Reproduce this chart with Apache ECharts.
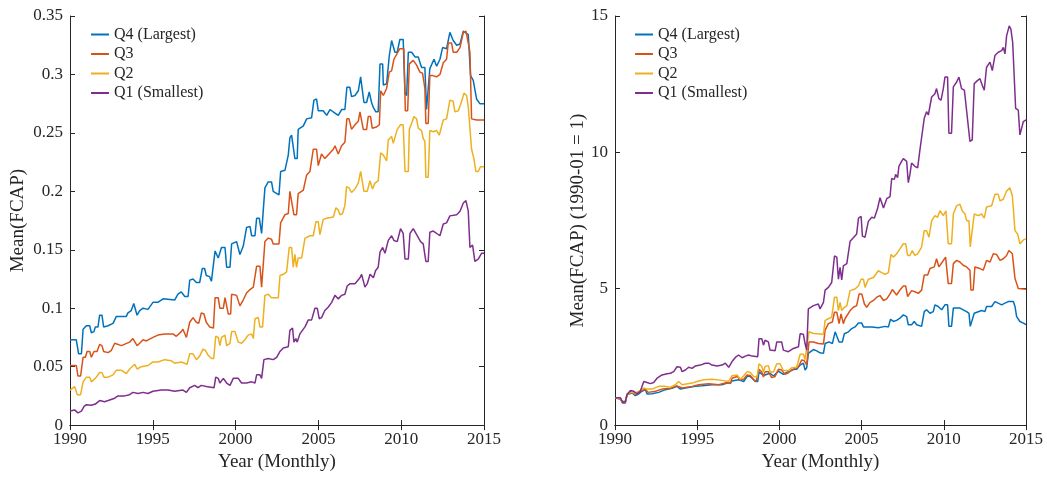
<!DOCTYPE html>
<html>
<head>
<meta charset="utf-8">
<script src="https://cdn.jsdelivr.net/npm/echarts@6/dist/echarts.min.js"></script>
<style>
html,body{margin:0;padding:0;background:#fff;}
#chart{width:1047px;height:477px;}
</style>
</head>
<body>
<div id="chart"></div>
<script>
// ---------- DATA ([decimal year, value]) ----------
const seriesNames = ['Q4 (Largest)', 'Q3', 'Q2', 'Q1 (Smallest)'];
const xTicks = [1990, 1995, 2000, 2005, 2010, 2015];

// Left panel: Mean(FCAP)
const q4Mean = [[1990.00,0.073],[1990.38,0.073],[1990.52,0.061],[1990.69,0.061],[1990.79,0.082],[1990.99,0.085],[1991.19,0.085],[1991.29,0.079],[1991.45,0.080],[1991.53,0.084],[1991.69,0.084],[1991.79,0.094],[1991.93,0.094],[1992.03,0.084],[1992.30,0.085],[1992.60,0.087],[1992.80,0.093],[1993.40,0.093],[1993.50,0.096],[1993.70,0.098],[1993.85,0.104],[1993.97,0.104],[1994.05,0.094],[1994.21,0.098],[1994.41,0.100],[1994.71,0.099],[1995.01,0.105],[1995.31,0.105],[1995.62,0.108],[1996.32,0.107],[1996.52,0.112],[1996.72,0.114],[1996.93,0.110],[1997.13,0.110],[1997.23,0.124],[1997.43,0.125],[1997.63,0.122],[1997.83,0.122],[1997.99,0.134],[1998.13,0.134],[1998.23,0.128],[1998.43,0.127],[1998.54,0.123],[1998.66,0.123],[1998.76,0.149],[1998.95,0.143],[1999.15,0.152],[1999.36,0.152],[1999.46,0.135],[1999.66,0.135],[1999.76,0.155],[2000.06,0.157],[2000.26,0.146],[2000.46,0.153],[2000.66,0.169],[2000.87,0.170],[2000.97,0.162],[2001.17,0.162],[2001.27,0.177],[2001.43,0.177],[2001.57,0.164],[2001.67,0.164],[2001.77,0.203],[2001.97,0.208],[2002.17,0.208],[2002.27,0.200],[2002.62,0.197],[2002.72,0.217],[2002.98,0.218],[2003.18,0.231],[2003.28,0.246],[2003.38,0.248],[2003.58,0.228],[2003.72,0.228],[2003.78,0.253],[2004.09,0.256],[2004.29,0.262],[2004.59,0.263],[2004.73,0.278],[2004.89,0.279],[2004.99,0.269],[2005.29,0.269],[2005.50,0.265],[2005.70,0.270],[2006.00,0.267],[2006.20,0.265],[2006.40,0.270],[2006.60,0.270],[2006.72,0.289],[2006.90,0.289],[2007.00,0.281],[2007.21,0.282],[2007.41,0.286],[2007.55,0.298],[2007.67,0.298],[2007.75,0.276],[2007.91,0.276],[2008.07,0.285],[2008.21,0.276],[2008.31,0.272],[2008.47,0.268],[2008.61,0.268],[2008.72,0.309],[2008.88,0.309],[2008.92,0.291],[2009.12,0.292],[2009.28,0.316],[2009.42,0.329],[2009.62,0.319],[2009.76,0.319],[2009.92,0.330],[2010.12,0.330],[2010.23,0.284],[2010.33,0.282],[2010.43,0.319],[2010.63,0.319],[2010.83,0.315],[2011.03,0.315],[2011.23,0.306],[2011.43,0.306],[2011.53,0.270],[2011.63,0.270],[2011.73,0.305],[2011.98,0.313],[2012.14,0.307],[2012.34,0.313],[2012.50,0.323],[2012.74,0.322],[2012.94,0.336],[2013.14,0.329],[2013.35,0.325],[2013.55,0.326],[2013.75,0.337],[2014.05,0.334],[2014.19,0.299],[2014.35,0.295],[2014.55,0.279],[2014.75,0.275],[2015.00,0.275]];
const q3Mean = [[1990.00,0.051],[1990.38,0.051],[1990.48,0.042],[1990.64,0.042],[1990.79,0.058],[1990.93,0.058],[1991.03,0.063],[1991.19,0.063],[1991.29,0.058],[1991.45,0.063],[1991.63,0.063],[1991.79,0.069],[1991.93,0.068],[1992.03,0.063],[1992.30,0.062],[1992.50,0.064],[1992.70,0.070],[1993.10,0.068],[1993.60,0.071],[1993.80,0.074],[1993.91,0.074],[1994.05,0.068],[1994.21,0.070],[1994.41,0.073],[1994.61,0.072],[1995.01,0.075],[1995.31,0.077],[1995.72,0.078],[1996.22,0.078],[1996.42,0.076],[1996.72,0.080],[1996.82,0.082],[1997.03,0.075],[1997.23,0.088],[1997.43,0.092],[1997.63,0.088],[1997.77,0.087],[1997.93,0.096],[1998.09,0.095],[1998.23,0.088],[1998.43,0.084],[1998.66,0.083],[1998.76,0.109],[1998.95,0.109],[1999.05,0.100],[1999.26,0.100],[1999.36,0.109],[1999.46,0.109],[1999.56,0.095],[1999.70,0.095],[1999.76,0.112],[2000.06,0.111],[2000.26,0.102],[2000.46,0.107],[2000.66,0.113],[2000.87,0.116],[2001.07,0.118],[2001.27,0.136],[2001.47,0.136],[2001.57,0.118],[2001.67,0.118],[2001.77,0.157],[2001.97,0.160],[2002.17,0.159],[2002.27,0.155],[2002.62,0.155],[2002.72,0.173],[2002.98,0.180],[2003.18,0.181],[2003.28,0.200],[2003.38,0.201],[2003.52,0.180],[2003.68,0.180],[2003.78,0.198],[2004.09,0.201],[2004.29,0.214],[2004.49,0.217],[2004.69,0.236],[2004.89,0.236],[2004.99,0.222],[2005.19,0.232],[2005.39,0.228],[2005.64,0.232],[2005.90,0.236],[2006.00,0.239],[2006.20,0.232],[2006.40,0.239],[2006.60,0.242],[2006.72,0.262],[2006.85,0.262],[2007.00,0.253],[2007.21,0.257],[2007.41,0.260],[2007.51,0.268],[2007.61,0.268],[2007.71,0.253],[2007.91,0.253],[2008.01,0.264],[2008.15,0.264],[2008.25,0.254],[2008.51,0.255],[2008.68,0.257],[2008.76,0.286],[2008.92,0.282],[2009.12,0.288],[2009.28,0.302],[2009.42,0.303],[2009.56,0.313],[2009.68,0.312],[2009.92,0.322],[2010.02,0.323],[2010.16,0.322],[2010.25,0.269],[2010.39,0.269],[2010.49,0.309],[2010.73,0.312],[2010.93,0.308],[2011.13,0.302],[2011.29,0.301],[2011.43,0.288],[2011.49,0.258],[2011.63,0.258],[2011.73,0.299],[2011.90,0.299],[2012.14,0.298],[2012.34,0.300],[2012.54,0.310],[2012.74,0.313],[2012.84,0.327],[2013.04,0.327],[2013.14,0.319],[2013.35,0.319],[2013.55,0.323],[2013.75,0.336],[2013.91,0.337],[2014.05,0.327],[2014.15,0.319],[2014.25,0.262],[2014.55,0.261],[2015.00,0.261]];
const q2Mean = [[1990.00,0.030],[1990.28,0.033],[1990.44,0.026],[1990.64,0.026],[1990.79,0.037],[1990.99,0.041],[1991.19,0.041],[1991.29,0.037],[1991.59,0.041],[1991.79,0.045],[1991.93,0.045],[1992.05,0.041],[1992.30,0.041],[1992.60,0.043],[1992.80,0.047],[1993.10,0.047],[1993.40,0.044],[1993.60,0.048],[1993.91,0.052],[1994.05,0.048],[1994.31,0.050],[1994.71,0.051],[1995.01,0.054],[1995.31,0.054],[1995.72,0.056],[1996.12,0.055],[1996.32,0.053],[1996.72,0.054],[1997.07,0.052],[1997.23,0.061],[1997.43,0.061],[1997.63,0.056],[1997.83,0.059],[1998.03,0.065],[1998.17,0.064],[1998.33,0.060],[1998.54,0.057],[1998.68,0.057],[1998.80,0.076],[1998.95,0.075],[1999.05,0.068],[1999.15,0.075],[1999.36,0.077],[1999.46,0.068],[1999.66,0.070],[1999.76,0.080],[1999.96,0.080],[2000.16,0.071],[2000.36,0.070],[2000.56,0.073],[2000.76,0.077],[2000.97,0.078],[2001.07,0.074],[2001.17,0.091],[2001.37,0.092],[2001.47,0.084],[2001.63,0.084],[2001.77,0.111],[2001.97,0.112],[2002.17,0.109],[2002.58,0.109],[2002.68,0.128],[2002.88,0.129],[2003.08,0.131],[2003.24,0.152],[2003.38,0.152],[2003.48,0.135],[2003.58,0.146],[2003.68,0.135],[2003.78,0.143],[2003.99,0.143],[2004.19,0.160],[2004.49,0.162],[2004.69,0.162],[2004.85,0.174],[2004.99,0.174],[2005.09,0.163],[2005.29,0.176],[2005.50,0.177],[2005.90,0.178],[2006.06,0.186],[2006.20,0.184],[2006.30,0.180],[2006.46,0.181],[2006.60,0.188],[2006.70,0.204],[2006.85,0.203],[2007.00,0.199],[2007.21,0.202],[2007.41,0.207],[2007.55,0.217],[2007.67,0.216],[2007.75,0.200],[2007.95,0.200],[2008.11,0.209],[2008.27,0.202],[2008.41,0.207],[2008.61,0.209],[2008.76,0.233],[2008.92,0.231],[2009.12,0.226],[2009.22,0.244],[2009.42,0.247],[2009.52,0.241],[2009.76,0.253],[2009.96,0.257],[2010.12,0.257],[2010.23,0.217],[2010.43,0.217],[2010.49,0.253],[2010.63,0.258],[2010.77,0.264],[2010.93,0.262],[2011.03,0.254],[2011.23,0.252],[2011.33,0.245],[2011.43,0.243],[2011.49,0.212],[2011.63,0.212],[2011.73,0.252],[2011.94,0.251],[2012.14,0.252],[2012.30,0.248],[2012.54,0.261],[2012.74,0.262],[2012.94,0.278],[2013.14,0.277],[2013.24,0.268],[2013.45,0.269],[2013.65,0.277],[2013.79,0.284],[2013.95,0.282],[2014.05,0.272],[2014.25,0.236],[2014.39,0.228],[2014.51,0.217],[2014.65,0.217],[2014.79,0.221],[2015.00,0.221]];
const q1Mean = [[1990.00,0.012],[1990.28,0.013],[1990.48,0.0105],[1990.69,0.012],[1990.85,0.016],[1990.99,0.0175],[1991.29,0.017],[1991.53,0.018],[1991.79,0.021],[1992.09,0.020],[1992.30,0.021],[1992.70,0.023],[1992.90,0.025],[1993.30,0.025],[1993.60,0.026],[1993.80,0.028],[1994.11,0.027],[1994.41,0.028],[1994.71,0.027],[1995.01,0.029],[1995.52,0.030],[1995.92,0.030],[1996.32,0.029],[1996.82,0.030],[1997.03,0.028],[1997.23,0.032],[1997.53,0.034],[1997.73,0.032],[1997.93,0.034],[1998.23,0.033],[1998.70,0.032],[1998.80,0.041],[1998.95,0.040],[1999.05,0.036],[1999.26,0.040],[1999.46,0.036],[1999.66,0.034],[1999.86,0.040],[2000.16,0.040],[2000.36,0.036],[2000.66,0.036],[2000.97,0.037],[2001.17,0.036],[2001.27,0.043],[2001.47,0.043],[2001.57,0.040],[2001.71,0.056],[2001.97,0.057],[2002.27,0.056],[2002.48,0.058],[2002.68,0.063],[2002.88,0.066],[2003.18,0.067],[2003.28,0.081],[2003.44,0.083],[2003.52,0.071],[2003.64,0.074],[2003.72,0.071],[2003.88,0.078],[2004.19,0.084],[2004.39,0.090],[2004.59,0.090],[2004.79,0.100],[2004.93,0.100],[2005.05,0.091],[2005.19,0.092],[2005.39,0.098],[2005.60,0.101],[2005.80,0.105],[2006.00,0.111],[2006.20,0.108],[2006.40,0.111],[2006.60,0.112],[2006.74,0.119],[2006.91,0.121],[2007.21,0.121],[2007.51,0.126],[2007.61,0.129],[2007.81,0.118],[2007.95,0.121],[2008.12,0.129],[2008.32,0.126],[2008.45,0.132],[2008.61,0.135],[2008.72,0.148],[2008.88,0.152],[2009.02,0.147],[2009.22,0.158],[2009.42,0.162],[2009.56,0.158],[2009.76,0.157],[2009.96,0.168],[2010.12,0.164],[2010.23,0.142],[2010.43,0.142],[2010.53,0.164],[2010.73,0.168],[2010.89,0.164],[2011.17,0.157],[2011.33,0.155],[2011.49,0.140],[2011.63,0.140],[2011.73,0.165],[2011.94,0.166],[2012.34,0.162],[2012.54,0.172],[2012.74,0.173],[2012.94,0.179],[2013.35,0.180],[2013.55,0.183],[2013.75,0.190],[2013.91,0.192],[2014.05,0.183],[2014.15,0.152],[2014.31,0.154],[2014.45,0.140],[2014.65,0.142],[2014.85,0.147],[2015.00,0.147]];

// Right panel: Mean(FCAP) normalised (1990-01 = 1)
const q4Index = [[1990.00,1.00],[1990.33,0.96],[1990.47,0.81],[1990.63,0.81],[1990.73,1.11],[1991.04,1.18],[1991.24,1.08],[1991.44,1.14],[1991.64,1.24],[1991.85,1.30],[1991.95,1.14],[1992.25,1.15],[1992.66,1.20],[1993.06,1.30],[1993.47,1.35],[1993.77,1.42],[1993.98,1.32],[1994.28,1.36],[1994.89,1.42],[1995.29,1.44],[1995.90,1.48],[1996.51,1.48],[1996.82,1.54],[1997.02,1.54],[1997.12,1.62],[1997.52,1.66],[1997.83,1.60],[1998.03,1.78],[1998.17,1.80],[1998.34,1.72],[1998.54,1.60],[1998.68,1.60],[1998.76,1.95],[1999.03,1.82],[1999.43,1.90],[1999.64,1.80],[1999.74,1.80],[1999.94,1.98],[2000.24,1.86],[2000.45,1.93],[2000.65,1.98],[2000.85,2.04],[2001.05,2.05],[2001.26,2.20],[2001.46,2.27],[2001.56,2.02],[2001.66,2.10],[2001.76,2.63],[2002.07,2.77],[2002.27,2.72],[2002.47,2.65],[2002.68,2.63],[2002.78,2.99],[2003.02,3.05],[2003.22,2.99],[2003.39,3.42],[2003.49,3.48],[2003.63,3.05],[2003.83,3.05],[2003.95,3.35],[2004.20,3.42],[2004.40,3.54],[2004.60,3.60],[2004.81,3.74],[2005.01,3.74],[2005.11,3.60],[2005.62,3.60],[2006.02,3.57],[2006.43,3.62],[2006.63,3.60],[2006.76,3.88],[2006.93,3.80],[2007.13,3.84],[2007.33,3.92],[2007.54,4.04],[2007.74,3.98],[2007.84,3.68],[2008.04,3.68],[2008.20,3.80],[2008.35,3.68],[2008.65,3.62],[2008.81,4.16],[2008.95,4.23],[2009.16,4.10],[2009.36,4.16],[2009.46,4.41],[2009.66,4.35],[2009.87,4.23],[2010.07,4.41],[2010.23,4.41],[2010.31,3.62],[2010.47,3.62],[2010.58,4.29],[2010.98,4.29],[2011.39,4.16],[2011.53,4.10],[2011.61,3.62],[2011.73,3.62],[2011.85,4.10],[2012.30,4.20],[2012.50,4.16],[2012.60,4.35],[2012.91,4.35],[2013.11,4.53],[2013.31,4.47],[2013.52,4.41],[2013.72,4.47],[2013.92,4.53],[2014.23,4.53],[2014.33,4.35],[2014.43,3.98],[2014.63,3.80],[2014.84,3.74],[2015.00,3.68]];
const q3Index = [[1990.00,1.00],[1990.33,0.96],[1990.43,0.84],[1990.63,0.84],[1990.73,1.14],[1990.94,1.24],[1991.24,1.12],[1991.64,1.27],[1991.85,1.32],[1992.01,1.20],[1992.46,1.24],[1992.86,1.32],[1993.37,1.35],[1993.77,1.44],[1994.08,1.36],[1994.69,1.42],[1995.09,1.48],[1995.70,1.52],[1996.31,1.48],[1996.82,1.56],[1997.02,1.52],[1997.12,1.72],[1997.42,1.78],[1997.63,1.66],[1997.83,1.68],[1998.03,1.84],[1998.23,1.82],[1998.44,1.66],[1998.58,1.60],[1998.76,2.05],[1998.93,1.95],[1999.03,1.76],[1999.13,1.96],[1999.33,1.96],[1999.53,1.74],[1999.74,1.78],[1999.94,2.05],[2000.14,2.02],[2000.34,1.86],[2000.55,1.92],[2000.75,2.02],[2000.95,2.08],[2001.16,2.14],[2001.36,2.39],[2001.52,2.36],[2001.66,2.20],[2001.80,3.05],[2002.07,3.05],[2002.37,2.99],[2002.68,2.97],[2002.78,3.48],[2002.98,3.72],[2003.22,3.78],[2003.35,4.14],[2003.49,4.14],[2003.63,3.72],[2003.75,4.08],[2003.89,3.72],[2003.99,3.90],[2004.30,4.20],[2004.50,4.32],[2004.70,4.38],[2004.85,4.81],[2005.01,4.81],[2005.17,4.44],[2005.31,4.32],[2005.52,4.50],[2005.72,4.57],[2005.92,4.69],[2006.12,4.75],[2006.33,4.57],[2006.53,4.63],[2006.73,4.81],[2006.87,4.97],[2006.99,4.95],[2007.13,4.77],[2007.33,4.95],[2007.54,5.10],[2007.68,5.10],[2007.80,4.71],[2008.04,4.93],[2008.24,4.89],[2008.45,4.83],[2008.65,4.95],[2008.81,5.50],[2009.02,5.50],[2009.16,5.74],[2009.42,5.80],[2009.56,6.10],[2009.70,5.80],[2009.91,5.98],[2010.11,6.16],[2010.23,6.16],[2010.27,5.19],[2010.47,5.19],[2010.58,5.92],[2010.78,6.04],[2010.98,5.98],[2011.18,5.86],[2011.39,5.80],[2011.59,5.68],[2011.65,4.95],[2011.79,4.95],[2011.89,5.80],[2012.20,5.74],[2012.40,5.68],[2012.60,6.04],[2012.81,5.98],[2013.01,6.28],[2013.21,6.26],[2013.42,6.04],[2013.62,6.10],[2013.82,6.22],[2013.96,6.40],[2014.17,6.28],[2014.33,5.38],[2014.53,5.01],[2015.00,4.98]];
const q2Index = [[1990.00,1.00],[1990.33,0.98],[1990.43,0.87],[1990.63,0.87],[1990.73,1.11],[1990.94,1.20],[1991.24,1.18],[1991.54,1.27],[1991.75,1.36],[1991.95,1.32],[1992.25,1.32],[1992.66,1.42],[1993.06,1.42],[1993.37,1.39],[1993.67,1.48],[1993.87,1.60],[1994.08,1.48],[1994.69,1.54],[1994.99,1.60],[1995.40,1.66],[1995.90,1.68],[1996.51,1.64],[1996.92,1.60],[1997.12,1.81],[1997.42,1.84],[1997.63,1.68],[1997.83,1.81],[1998.03,1.96],[1998.23,1.93],[1998.44,1.78],[1998.64,1.76],[1998.76,2.25],[1998.93,2.15],[1999.03,1.95],[1999.13,2.15],[1999.33,2.18],[1999.43,1.95],[1999.64,1.95],[1999.84,2.25],[2000.04,2.25],[2000.24,2.00],[2000.55,2.00],[2000.75,2.10],[2001.05,2.12],[2001.26,2.60],[2001.46,2.60],[2001.56,2.40],[2001.66,2.40],[2001.80,3.42],[2002.07,3.36],[2002.68,3.33],[2002.78,3.84],[2002.98,3.90],[2003.18,3.96],[2003.35,4.69],[2003.49,4.69],[2003.59,4.20],[2003.69,4.50],[2003.79,4.20],[2003.95,4.32],[2004.10,4.38],[2004.30,4.93],[2004.60,4.99],[2004.81,5.11],[2004.97,5.35],[2005.11,5.35],[2005.21,5.05],[2005.41,5.35],[2005.72,5.41],[2006.02,5.66],[2006.22,5.59],[2006.43,5.53],[2006.63,5.59],[2006.79,6.26],[2006.93,6.16],[2007.13,6.28],[2007.33,6.46],[2007.54,6.65],[2007.68,6.65],[2007.80,6.22],[2007.94,6.22],[2008.08,6.40],[2008.24,6.22],[2008.41,6.28],[2008.65,6.53],[2008.81,7.13],[2008.95,7.13],[2009.10,6.89],[2009.26,7.49],[2009.46,7.68],[2009.62,7.62],[2009.77,7.86],[2009.97,7.68],[2010.13,7.86],[2010.27,6.65],[2010.47,6.65],[2010.58,7.74],[2010.78,8.04],[2010.98,8.10],[2011.12,7.86],[2011.29,7.74],[2011.39,7.49],[2011.53,7.49],[2011.61,6.53],[2011.73,6.53],[2011.85,7.74],[2012.10,7.68],[2012.30,7.74],[2012.46,7.59],[2012.60,8.00],[2012.91,8.04],[2013.11,8.46],[2013.31,8.46],[2013.42,8.22],[2013.62,8.28],[2013.82,8.58],[2014.02,8.70],[2014.17,8.40],[2014.33,7.13],[2014.49,7.01],[2014.63,6.65],[2014.84,6.79],[2015.00,6.83]];
const q1Index = [[1990.00,1.00],[1990.33,1.00],[1990.47,0.84],[1990.63,0.87],[1990.73,1.11],[1990.94,1.27],[1991.14,1.24],[1991.34,1.15],[1991.54,1.24],[1991.75,1.60],[1991.95,1.56],[1992.15,1.52],[1992.35,1.56],[1992.56,1.72],[1992.86,1.84],[1993.17,1.88],[1993.37,1.90],[1993.57,1.96],[1993.77,2.14],[1993.98,2.12],[1994.08,1.96],[1994.28,2.02],[1994.48,2.12],[1994.69,2.08],[1994.89,2.17],[1995.19,2.20],[1995.50,2.27],[1995.70,2.27],[1995.90,2.20],[1996.21,2.17],[1996.51,2.20],[1996.71,2.27],[1996.92,2.12],[1997.12,2.33],[1997.32,2.48],[1997.52,2.57],[1997.73,2.47],[1997.93,2.53],[1998.13,2.57],[1998.34,2.53],[1998.68,2.51],[1998.76,3.17],[1998.93,3.17],[1999.03,2.93],[1999.13,3.11],[1999.33,3.05],[1999.43,2.75],[1999.74,2.73],[1999.84,3.05],[2000.14,3.05],[2000.24,2.75],[2000.55,2.69],[2000.85,2.81],[2001.16,2.87],[2001.26,3.35],[2001.46,3.33],[2001.56,2.99],[2001.66,2.75],[2001.76,4.26],[2002.07,4.38],[2002.37,4.44],[2002.47,4.26],[2002.68,4.50],[2002.78,4.95],[2002.98,5.05],[2003.18,5.23],[2003.35,6.20],[2003.49,6.16],[2003.59,5.35],[2003.69,5.78],[2003.79,5.32],[2003.89,5.84],[2004.10,5.92],[2004.30,6.74],[2004.50,6.87],[2004.70,7.01],[2004.81,7.59],[2004.97,7.65],[2005.05,6.93],[2005.21,6.89],[2005.41,7.47],[2005.62,7.62],[2005.78,7.59],[2005.98,7.96],[2006.12,8.34],[2006.22,8.34],[2006.33,7.96],[2006.53,8.30],[2006.73,8.38],[2006.83,9.04],[2006.99,9.01],[2007.07,9.19],[2007.19,9.07],[2007.27,9.49],[2007.43,9.67],[2007.54,9.77],[2007.64,9.79],[2007.74,9.67],[2007.84,8.89],[2007.94,9.19],[2008.04,9.61],[2008.24,9.49],[2008.41,9.43],[2008.55,10.10],[2008.65,10.16],[2008.81,11.25],[2008.95,11.49],[2009.06,11.37],[2009.26,12.03],[2009.46,12.15],[2009.56,12.34],[2009.70,11.97],[2009.83,11.91],[2009.97,12.34],[2010.07,12.76],[2010.23,12.76],[2010.31,10.70],[2010.47,10.70],[2010.58,12.40],[2010.78,12.58],[2010.92,12.76],[2011.08,12.34],[2011.25,12.28],[2011.33,11.85],[2011.45,11.85],[2011.59,10.40],[2011.73,10.46],[2011.85,12.52],[2012.06,12.64],[2012.20,12.70],[2012.34,12.46],[2012.46,12.28],[2012.60,13.12],[2012.81,13.31],[2012.95,13.00],[2013.11,13.55],[2013.31,13.67],[2013.52,13.73],[2013.62,13.85],[2013.72,13.61],[2013.82,14.27],[2013.98,14.64],[2014.08,14.52],[2014.19,14.03],[2014.29,14.09],[2014.37,11.61],[2014.53,11.55],[2014.63,10.64],[2014.73,10.70],[2014.84,11.13],[2015.00,11.19]];

const leftYTicks = [0, 0.05, 0.1, 0.15, 0.2, 0.25, 0.3, 0.35];
const rightYTicks = [0, 5, 10, 15];

// ---------- STYLE ----------
const colors = ['#0072BD', '#D95319', '#EDB120', '#7E2F8E'];
const ink = '#262626';
const font = 'Liberation Serif';

const chart = echarts.init(document.getElementById('chart'), null, {renderer: 'canvas'});

function xAxis(grid, top) {
  return {
    type: 'value', gridIndex: grid, position: top ? 'top' : 'bottom',
    min: xTicks[0], max: xTicks[xTicks.length - 1], interval: 5,
    name: top ? '' : 'Year (Monthly)', nameLocation: 'middle', nameGap: 24,
    nameTextStyle: {fontFamily: font, fontSize: 19, color: ink},
    axisLine: {show: true, lineStyle: {color: ink, width: 1}},
    axisTick: {show: true, inside: true, length: 5, lineStyle: {color: ink}},
    axisLabel: {show: !top, fontFamily: font, fontSize: 17, color: ink, margin: 6, formatter: v => String(v)},
    splitLine: {show: false}
  };
}
function yAxis(grid, right, ticks, name, gap, fmt) {
  return {
    type: 'value', gridIndex: grid, position: right ? 'right' : 'left',
    min: ticks[0], max: ticks[ticks.length - 1], interval: ticks[1] - ticks[0],
    name: right ? '' : name, nameLocation: 'middle', nameGap: gap, nameRotate: 90,
    nameTextStyle: {fontFamily: font, fontSize: 19, color: ink},
    axisLine: {show: true, lineStyle: {color: ink, width: 1}},
    axisTick: {show: true, inside: true, length: 5, lineStyle: {color: ink}},
    axisLabel: {show: !right, fontFamily: font, fontSize: 17, color: ink, margin: 7, formatter: fmt},
    splitLine: {show: false}
  };
}
function line(name, data, xi, yi, color) {
  return {
    type: 'line', name: name, data: data, xAxisIndex: xi, yAxisIndex: yi,
    showSymbol: false, symbol: 'none', smooth: false,
    lineStyle: {color: color, width: 1.5}, itemStyle: {color: color},
    emphasis: {disabled: true}, z: 2
  };
}
function legend(left) {
  return {
    data: seriesNames, orient: 'vertical', left: left, top: 20,
    icon: 'rect', itemWidth: 18, itemHeight: 2, itemGap: 0.5,
    textStyle: {fontFamily: font, fontSize: 16, color: ink, lineHeight: 19},
    selectedMode: false
  };
}

const leftData = [q4Mean, q3Mean, q2Mean, q1Mean];
const rightData = [q4Index, q3Index, q2Index, q1Index];
const series = [];
seriesNames.forEach((n, i) => series.push(line(n, leftData[i], 0, 0, colors[i])));
seriesNames.forEach((n, i) => series.push(line(n, rightData[i], 2, 2, colors[i])));

chart.setOption({
  animation: false,
  backgroundColor: '#ffffff',
  color: colors,
  textStyle: {fontFamily: font},
  grid: [
    {left: 70, top: 16, width: 414, height: 413},
    {left: 615, top: 16, width: 411, height: 413}
  ],
  legend: [legend(86), legend(630)],
  xAxis: [xAxis(0, false), xAxis(0, true), xAxis(1, false), xAxis(1, true)],
  yAxis: [
    yAxis(0, false, leftYTicks, 'Mean(FCAP)', 42, v => String(Math.round(v * 100) / 100)),
    yAxis(0, true, leftYTicks, '', 0, null),
    yAxis(1, false, rightYTicks, 'Mean(FCAP) (1990-01 = 1)', 27, v => String(v)),
    yAxis(1, true, rightYTicks, '', 0, null)
  ],
  series: series
});
</script>
</body>
</html>
